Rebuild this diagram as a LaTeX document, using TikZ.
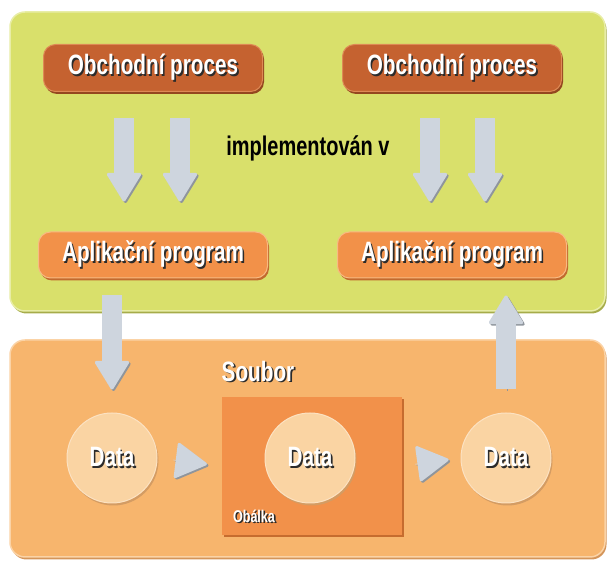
\documentclass[tikz,border=0pt]{standalone}
\usepackage{fontspec}
\setmainfont{Liberation Sans}[FakeStretch=0.74]
\usepackage{tikz}
\usetikzlibrary{arrows.meta,shadows,calc}

\definecolor{greenpanel}{HTML}{D9E06B}
\definecolor{greenrim}{HTML}{E8EDA6}
\definecolor{greenshade}{HTML}{A6AC4A}
\definecolor{orangepanel}{HTML}{F7B56D}
\definecolor{orangerim}{HTML}{FBD3A6}
\definecolor{orangeshade}{HTML}{D4955A}
\definecolor{procfill}{HTML}{C56230}
\definecolor{procrim}{HTML}{DE8A55}
\definecolor{procshade}{HTML}{94471F}
\definecolor{progfill}{HTML}{F29149}
\definecolor{progrim}{HTML}{F8BA82}
\definecolor{progshade}{HTML}{C26A2E}
\definecolor{envfill}{HTML}{F2914A}
\definecolor{envshade}{HTML}{C66C2F}
\definecolor{datafill}{HTML}{FAD4A3}
\definecolor{datarim}{HTML}{FCE2C2}
\definecolor{datashade}{HTML}{D49C63}
\definecolor{arrfill}{HTML}{CED5DE}
\definecolor{arrshade}{HTML}{8F959C}
\definecolor{txtshade}{HTML}{2B2B2B}

% white label with a dark drop shadow
\newcommand\shtxt[1]{\makebox[0pt][l]{\hspace{1.6pt}\raisebox{-1.6pt}{\textcolor{txtshade}{#1}}}\textcolor{white}{#1}}

\begin{document}
\begin{tikzpicture}[x=1pt, y=1pt,
    every node/.style={font=\fontsize{28}{30}\selectfont\bfseries},
    boxsh/.style={drop shadow={shadow xshift=1.5pt, shadow yshift=-2.5pt, fill=#1, opacity=1}},
    panel/.style={rectangle, rounded corners=15pt, line width=1.5pt, inner sep=0pt},
    procbox/.style={rectangle, rounded corners=12pt, fill=procfill, draw=procrim,
      line width=1pt, boxsh=procshade, minimum width=219pt, minimum height=47pt},
    progbox/.style={rectangle, rounded corners=12pt, fill=progfill, draw=progrim,
      line width=1pt, boxsh=progshade, minimum width=229pt, minimum height=46pt},
    datanode/.style={circle, fill=datafill, draw=datarim, line width=1pt,
      boxsh=datashade, minimum size=90pt, inner sep=0pt},
    blockarr/.style={line width=20pt, draw=arrfill,
      -{Triangle[length=30pt 0 0, width=36pt 0 0, line width=3pt, round]},
      preaction={draw=arrshade, transform canvas={shift={(1.5pt,-1.5pt)}}}},
    triarr/.style={line width=0.5pt, draw=arrfill,
      -{Triangle[length=33pt 0 0, width=37pt 0 0, line width=3pt, round]},
      preaction={draw=arrshade, transform canvas={shift={(1.5pt,-1.5pt)}}}}]
  \useasboundingbox (0,0) rectangle (610,561);

  % the two panels
  \node[panel, fill=greenpanel, draw=greenrim, boxsh=greenshade,
      minimum width=595pt, minimum height=299pt] (apps) at (307.5,399.5) {};
  \node[panel, fill=orangepanel, draw=orangerim, boxsh=orangeshade,
      minimum width=595pt, minimum height=217pt] (file) at (307.5,112.5) {};

  % processes and programs
  \node[procbox] (op1) at (153,493) {\shtxt{Obchodní proces}};
  \node[procbox] (op2) at (452,493) {\shtxt{Obchodní proces}};
  \node[progbox] (ap1) at (153,306) {\shtxt{Aplikační program}};
  \node[progbox] (ap2) at (452,306) {\shtxt{Aplikační program}};
  \node[font=\fontsize{27}{29}\selectfont\bfseries] (impl) at (308,413) {implementován v};

  % file contents
  \node (soubor) at (258,189) {\shtxt{Soubor}};
  \node[rectangle, fill=envfill, boxsh=envshade, minimum width=180pt,
      minimum height=138pt, inner sep=0pt] (env) at (312,95) {};
  \node[font=\fontsize{17}{19}\selectfont\bfseries] (envlabel) at (254,44) {\shtxt{Obálka}};
  \node[datanode] (d1) at (112,103) {\shtxt{Data}};
  \node[datanode] (d2) at (310,103) {\shtxt{Data}};
  \node[datanode] (d3) at (506,103) {\shtxt{Data}};

  % arrows
  \draw[blockarr, shorten <=26pt, shorten >=30pt] ([xshift=-29pt]op1.south) -- ([xshift=-29pt]ap1.north);
  \draw[blockarr, shorten <=26pt, shorten >=30pt] ([xshift=27pt]op1.south) -- ([xshift=27pt]ap1.north);
  \draw[blockarr, shorten <=26pt, shorten >=30pt] ([xshift=-22pt]op2.south) -- ([xshift=-22pt]ap2.north);
  \draw[blockarr, shorten <=26pt, shorten >=30pt] ([xshift=33pt]op2.south) -- ([xshift=33pt]ap2.north);
  \draw[blockarr, shorten <=17pt, shorten >=23pt] (d1.north |- ap1.south) -- (d1.north);
  \draw[blockarr, shorten <=23pt, shorten >=17pt] (d3.north) -- (d3.north |- ap2.south);
  \draw[triarr, shorten <=16pt, shorten >=15pt] (d1.east) -- (env.west);
  \draw[triarr, shorten <=13pt, shorten >=12pt] (env.east) -- (d3.west);
\end{tikzpicture}
\end{document}
